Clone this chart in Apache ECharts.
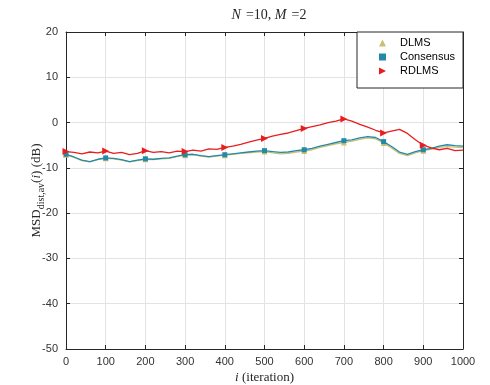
<!DOCTYPE html>
<html>
<head>
<meta charset="utf-8">
<script src="https://cdn.jsdelivr.net/npm/echarts@6/dist/echarts.min.js"></script>
<style>
  html, body { margin: 0; padding: 0; background: #fff; }
  #chart { width: 490px; height: 385px; }
</style>
</head>
<body>
<div id="chart"></div>
<script>
// Iterations sampled every 20 steps
const iterations = [0,20,40,60,80,100,120,140,160,180,200,220,240,260,280,300,320,340,360,380,
  400,420,440,460,480,500,520,540,560,580,600,620,640,660,680,700,720,740,760,780,
  800,820,840,860,880,900,920,940,960,980,1000];

// MSD (dB) for each algorithm
const dlms = [-7.1,-7.7,-8.4,-8.7,-8.2,-7.9,-8.0,-8.3,-8.7,-8.4,-8.1,-8.2,-8.0,-7.9,-7.5,-7.2,-7.1,-7.4,-7.6,-7.4,
  -7.2,-7.0,-6.8,-6.7,-6.5,-6.4,-6.7,-6.9,-6.8,-6.5,-6.3,-6.0,-5.5,-5.1,-4.7,-4.4,-4.1,-3.7,-3.4,-3.6,
  -4.5,-5.6,-6.8,-7.3,-6.7,-6.2,-5.9,-5.5,-5.3,-5.4,-5.5];
const consensus = [-7.0,-7.6,-8.3,-8.6,-8.1,-7.8,-7.9,-8.2,-8.6,-8.3,-8.0,-8.1,-7.9,-7.8,-7.4,-7.1,-7.0,-7.3,-7.5,-7.3,
  -7.1,-6.9,-6.7,-6.5,-6.3,-6.2,-6.4,-6.6,-6.5,-6.2,-6.0,-5.7,-5.2,-4.8,-4.4,-4.0,-3.8,-3.4,-3.1,-3.3,
  -4.2,-5.3,-6.5,-7.0,-6.4,-6.0,-5.7,-5.2,-4.9,-5.1,-5.2];
const rdlms = [-6.4,-6.6,-6.9,-6.5,-6.7,-6.3,-6.8,-6.6,-7.1,-6.8,-6.2,-6.6,-6.4,-6.7,-6.3,-6.4,-6.1,-6.3,-5.8,-5.9,
  -5.5,-5.2,-4.8,-4.3,-3.9,-3.5,-3.0,-2.6,-2.3,-1.8,-1.3,-0.9,-0.5,0.0,0.3,0.8,0.3,-0.4,-1.0,-1.7,
  -2.3,-1.9,-1.5,-2.4,-3.8,-5.0,-5.6,-6.0,-5.7,-6.2,-6.1];

// Markers every 100 iterations
const markerIterations = [0,100,200,300,400,500,600,700,800,900];

const colors = { dlms: '#CDBF72', consensus: '#2489A8', rdlms: '#E81E1E' };

function pairs(ys) { return iterations.map((x, i) => [x, ys[i]]); }
function markers(ys) {
  return markerIterations.map(m => [m, ys[iterations.indexOf(m)]]);
}

const axisColor = '#262626';
const sans = 'Liberation Sans, Arial, sans-serif';
const serif = 'Liberation Serif, Times New Roman, serif';
const rightTriangle = 'path://M0,0L10,5L0,10Z';

const chart = echarts.init(document.getElementById('chart'), null, { renderer: 'canvas' });

const lineSeries = (name, ys, color, z) => ({
  name: name + ' line', type: 'line', data: pairs(ys), showSymbol: false,
  lineStyle: { color, width: 1.3 }, itemStyle: { color }, z, silent: true, animation: false
});
const markerSeries = (name, ys, color, symbol, size, z) => ({
  name, type: 'scatter', data: markers(ys), symbol, symbolSize: size,
  itemStyle: { color, opacity: 1 }, z, animation: false
});

const frameAxis = {
  axisLine: { show: true, onZero: false, lineStyle: { color: axisColor, width: 1 } },
  axisTick: { show: true, inside: true, length: 4, lineStyle: { color: axisColor } }
};

chart.setOption({
  backgroundColor: '#fff',
  animation: false,
  title: {
    text: '{i|N} {t|=10, }{i|M} {t|=2}',
    left: 264, top: 1, textAlign: 'center',
    textStyle: {
      fontWeight: 'normal',
      rich: {
        i: { fontFamily: serif, fontStyle: 'italic', fontWeight: 'normal', fontSize: 14, color: '#262626' },
        t: { fontFamily: serif, fontWeight: 'normal', fontSize: 14, color: '#262626' }
      }
    }
  },
  grid: { left: 66, right: 27, top: 32, bottom: 36, show: false, outerBoundsMode: 'none', containLabel: false },
  legend: {
    orient: 'vertical', left: 357, top: 32,
    width: 106,
    padding: [5, 8, 11, 22],
    itemGap: 2, itemWidth: 7, itemHeight: 7,
    backgroundColor: '#fff', borderColor: axisColor, borderWidth: 1,
    textStyle: { fontFamily: sans, fontSize: 11, color: '#000', padding: [0, 0, 0, 9], lineHeight: 12 },
    data: [
      { name: 'DLMS', icon: 'triangle' },
      { name: 'Consensus', icon: 'rect' },
      { name: 'RDLMS', icon: rightTriangle }
    ]
  },
  xAxis: [Object.assign({
    type: 'value', min: 0, max: 1000, interval: 100,
    name: '{i|i} {t|(iteration)}', nameLocation: 'middle', nameGap: 22, nameMoveOverlap: false,
    nameTextStyle: {
      rich: {
        i: { fontFamily: serif, fontStyle: 'italic', fontSize: 13, color: '#262626' },
        t: { fontFamily: serif, fontSize: 13, color: '#262626' }
      }
    },
    axisLabel: { fontFamily: sans, fontSize: 11, color: '#333', margin: 7, formatter: v => String(v) },
    splitLine: { show: true, lineStyle: { color: '#e3e3e3', width: 1 } }
  }, frameAxis), Object.assign({
    type: 'value', min: 0, max: 1000, interval: 100, position: 'top',
    axisLabel: { show: false }, splitLine: { show: false }
  }, frameAxis)],
  yAxis: [Object.assign({
    type: 'value', min: -50, max: 20, interval: 10,
    name: '{t|MSD}{s|dist,av}{t|(}{i|i}{t|) (dB)}', nameLocation: 'middle', nameGap: 22, nameMoveOverlap: false,
    nameTextStyle: {
      rich: {
        t: { fontFamily: serif, fontSize: 13, color: '#262626', lineHeight: 14 },
        i: { fontFamily: serif, fontStyle: 'italic', fontSize: 13, color: '#262626', lineHeight: 14 },
        s: { fontFamily: serif, fontSize: 10, color: '#262626', lineHeight: 10, padding: [8, 0, 0, 0] }
      }
    },
    axisLabel: { fontFamily: sans, fontSize: 11, color: '#333', margin: 8 },
    splitLine: { show: true, lineStyle: { color: '#e3e3e3', width: 1 } }
  }, frameAxis), Object.assign({
    type: 'value', min: -50, max: 20, interval: 10, position: 'right',
    axisLabel: { show: false }, splitLine: { show: false }
  }, frameAxis)],
  series: [
    lineSeries('DLMS', dlms, colors.dlms, 2),
    lineSeries('Consensus', consensus, colors.consensus, 3),
    lineSeries('RDLMS', rdlms, colors.rdlms, 4),
    markerSeries('DLMS', dlms, colors.dlms, 'triangle', 6, 5),
    markerSeries('Consensus', consensus, colors.consensus, 'rect', 5, 6),
    markerSeries('RDLMS', rdlms, colors.rdlms, rightTriangle, 7, 7)
  ]
});
</script>
</body>
</html>
